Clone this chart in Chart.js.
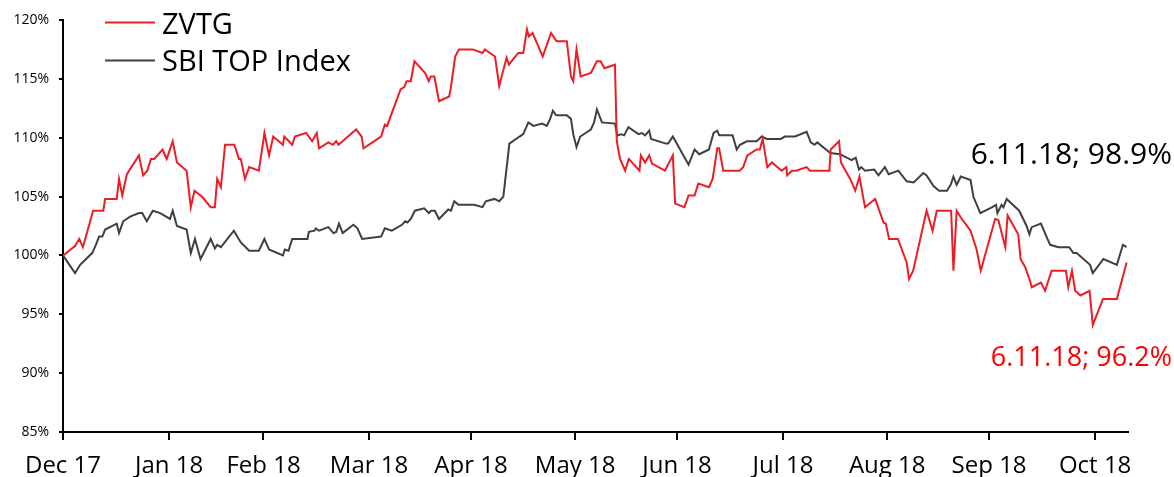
<!DOCTYPE html>
<html>
<head>
<meta charset="utf-8">
<script src="https://cdn.jsdelivr.net/npm/chart.js@4.4.0/dist/chart.umd.min.js"></script>
<style>
  html, body { margin: 0; padding: 0; background: #fff; }
</style>
</head>
<body>
<canvas id="grafico" width="1174" height="477"></canvas>
<script>
//DATOS//
// eje x: dia de bolsa desde el inicio (0 = inicio Dec 17)
const tickDays = [0, 22.9, 43.3, 66.1, 88.1, 110.6, 132.6, 155.5, 178, 200, 222.9];
const tickLabels = ["Dec 17", "Jan 18", "Feb 18", "Mar 18", "Apr 18", "May 18", "Jun 18", "Jul 18", "Aug 18", "Sep 18", "Oct 18"];

const zvtgDay = [
  0, 2.6, 3.5, 4.3, 6.5, 8.7, 9.1, 11.6, 12.1, 12.8,
  13.8, 16.4, 17.3, 18.2, 19.0, 19.7, 21.5, 22.4, 23.7, 24.6,
  26.7, 27.6, 28.4, 30.0, 31.9, 32.8, 33.3, 34.1, 35.0, 37.0,
  38.0, 38.4, 39.3, 40.2, 42.3, 43.5, 44.5, 45.4, 47.5, 47.8,
  49.5, 50.1, 52.5, 53.8, 54.8, 55.3, 57.3, 58.3, 59.0, 59.5,
  63.3, 64.5, 64.9, 68.7, 69.5, 70.0, 71.3, 72.9, 73.7, 74.2,
  75.1, 75.9, 78.2, 79.0, 79.4, 80.2, 81.2, 83.4, 83.7, 84.7,
  85.5, 88.5, 90.6, 91.1, 93.3, 94.2, 95.8, 96.3, 98.3, 99.4,
  100.2, 100.6, 101.4, 103.6, 105.4, 106.6, 108.8, 109.7, 110.2, 110.9,
  111.8, 114.0, 115.3, 116.1, 116.9, 119.2, 119.6, 120.3, 121.4, 122.2,
  124.5, 124.8, 125.7, 126.6, 127.2, 130.0, 131.7, 132.2, 134.2, 135.1,
  136.4, 137.2, 139.5, 140.3, 141.3, 141.7, 142.6, 146.1, 146.9, 147.8,
  149.8, 150.5, 151.1, 152.1, 153.1, 155.2, 156.2, 156.4, 157.4, 158.3,
  160.6, 161.3, 165.5, 165.8, 167.6, 168.0, 170.0, 171.1, 172.0, 173.2,
  175.4, 177.2, 177.7, 178.4, 180.3, 182.2, 182.7, 183.6, 186.5, 187.8,
  188.7, 191.8, 192.3, 193.0, 194.1, 196.0, 197.3, 198.2, 201.3, 202.0,
  203.5, 204.0, 206.3, 206.8, 207.8, 208.7, 209.2, 211.2, 212.1, 213.5,
  216.6, 217.1, 217.9, 218.6, 219.7, 221.7, 222.4, 224.6, 227.6, 229.7
];
const zvtgValue = [
  100.0, 100.8, 101.4, 100.7, 103.8, 103.8, 104.8, 104.8, 106.5, 105.1,
  106.9, 108.5, 106.8, 107.2, 108.2, 108.2, 109.0, 108.2, 109.7, 107.9,
  107.2, 104.1, 105.5, 105.0, 104.1, 104.1, 106.5, 105.8, 109.4, 109.4,
  108.2, 108.2, 106.5, 107.5, 107.2, 110.4, 108.5, 110.1, 109.4, 110.1,
  109.4, 110.1, 110.4, 109.7, 110.4, 109.1, 109.6, 109.4, 109.7, 109.4,
  110.7, 110.1, 109.1, 110.1, 111.1, 111.0, 112.4, 114.1, 114.3, 114.8,
  114.8, 116.5, 115.5, 114.8, 115.2, 115.2, 113.1, 113.5, 114.1, 116.9,
  117.5, 117.5, 117.2, 117.5, 116.9, 114.4, 116.8, 116.2, 117.2, 117.2,
  119.2, 118.6, 118.9, 116.9, 118.9, 118.2, 118.2, 115.2, 114.8, 117.5,
  115.2, 115.5, 116.5, 116.5, 115.9, 116.2, 109.7, 108.2, 107.2, 108.2,
  107.2, 108.5, 107.9, 108.5, 107.8, 107.2, 108.5, 104.4, 104.1, 105.1,
  105.1, 106.1, 105.8, 106.5, 109.1, 109.1, 107.2, 107.2, 107.5, 108.5,
  109.0, 109.0, 109.9, 107.5, 107.9, 107.2, 107.5, 106.8, 107.2, 107.2,
  107.5, 107.2, 107.2, 109.0, 109.7, 107.9, 106.5, 105.5, 106.7, 104.1,
  104.8, 102.8, 102.7, 101.4, 101.4, 99.4, 98.0, 98.7, 103.8, 102.1,
  103.8, 103.8, 98.7, 103.8, 103.1, 102.1, 100.5, 98.7, 103.1, 103.0,
  100.7, 103.4, 101.8, 99.7, 99.0, 98.0, 97.3, 97.7, 97.0, 98.7,
  98.7, 97.3, 98.7, 97.0, 96.6, 97.0, 94.1, 96.3, 96.3, 99.4
];

const sbiDay = [
  0, 2.6, 3.7, 6.3, 7.1, 7.8, 8.5, 9.1, 11.6, 12.1,
  13.0, 14.5, 16.4, 17.1, 18.1, 19.4, 21.0, 23.1, 23.7, 24.6,
  26.7, 27.6, 28.5, 29.7, 31.9, 32.8, 33.3, 34.1, 36.9, 38.4,
  39.2, 40.2, 42.3, 43.5, 44.5, 47.5, 47.9, 48.7, 49.5, 52.8,
  53.1, 54.3, 54.6, 55.3, 57.3, 58.4, 59.0, 59.6, 60.4, 62.7,
  63.6, 64.6, 68.7, 69.5, 71.0, 73.2, 73.9, 74.4, 75.1, 76.0,
  78.0, 79.0, 79.5, 80.3, 81.2, 83.2, 83.8, 84.5, 85.4, 88.8,
  90.6, 91.3, 93.2, 94.2, 95.1, 96.4, 98.6, 99.4, 100.5, 101.6,
  103.5, 104.5, 105.2, 105.8, 106.5, 108.8, 109.7, 110.2, 110.9, 111.7,
  114.0, 114.7, 115.3, 116.4, 119.2, 119.7, 120.5, 121.2, 122.1, 124.3,
  125.0, 125.7, 126.6, 127.0, 130.2, 130.7, 131.7, 135.1, 136.4, 137.4,
  139.5, 140.5, 141.3, 141.7, 144.6, 145.5, 146.2, 147.7, 149.8, 150.9,
  152.0, 155.0, 155.9, 158.1, 160.6, 161.5, 162.3, 162.9, 165.7, 167.8,
  170.3, 171.2, 171.9, 172.4, 173.2, 175.2, 176.1, 177.5, 178.3, 180.4,
  182.2, 183.7, 185.8, 186.5, 188.0, 189.2, 190.9, 191.7, 192.3, 193.0,
  193.9, 196.0, 196.6, 198.1, 200.7, 201.5, 201.8, 202.7, 203.1, 203.8,
  206.5, 208.1, 208.7, 209.2, 211.2, 212.6, 213.2, 215.0, 217.3, 218.2,
  218.9, 221.8, 222.4, 224.7, 227.6, 228.9, 229.7
];
const sbiValue = [
  100.0, 98.5, 99.2, 100.2, 100.9, 101.6, 101.6, 102.2, 102.7, 101.9,
  102.9, 103.3, 103.6, 103.6, 102.9, 103.8, 103.6, 103.1, 103.8, 102.5,
  102.2, 100.2, 101.4, 99.7, 101.4, 100.6, 100.9, 100.7, 102.1, 101.1,
  100.8, 100.4, 100.4, 101.4, 100.5, 100.0, 100.5, 100.4, 101.4, 101.4,
  102.0, 102.1, 102.3, 102.1, 102.4, 101.9, 102.0, 102.7, 101.9, 102.6,
  102.3, 101.4, 101.6, 102.3, 102.1, 102.6, 102.9, 102.8, 103.1, 103.8,
  104.0, 103.6, 103.8, 103.8, 103.1, 103.9, 103.8, 104.6, 104.3, 104.3,
  104.1, 104.6, 104.8, 104.6, 105.0, 109.5, 110.1, 110.3, 111.3, 111.0,
  111.2, 111.0, 111.6, 112.3, 111.9, 111.9, 111.6, 110.3, 109.2, 110.1,
  110.7, 111.3, 112.4, 111.3, 111.2, 110.2, 110.3, 110.2, 110.9, 110.3,
  110.4, 110.2, 110.6, 109.9, 109.5, 109.5, 110.1, 107.7, 109.0, 108.6,
  109.0, 110.4, 110.6, 110.2, 110.2, 109.0, 109.4, 109.7, 109.7, 110.1,
  109.9, 109.9, 110.1, 110.1, 110.5, 109.6, 109.4, 109.6, 108.7, 108.6,
  108.1, 108.3, 107.3, 107.5, 107.2, 107.3, 106.8, 107.5, 106.9, 107.2,
  106.3, 106.2, 107.0, 106.8, 105.9, 105.5, 105.5, 106.0, 106.7, 106.0,
  106.7, 106.4, 105.0, 103.6, 104.1, 104.3, 103.6, 104.3, 104.1, 104.8,
  103.8, 102.5, 101.8, 102.4, 102.7, 101.4, 100.9, 100.7, 100.7, 100.2,
  100.2, 99.2, 98.5, 99.7, 99.2, 100.9, 100.7
];

const zvtgEnd = "6.11.18; 96.2%";
const sbiEnd = "6.11.18; 98.9%";

const ROJO = "#ee1c25";
const GRIS = "#404040";
const FUENTE = '"Open Sans", "Noto Sans", sans-serif';

function armarPuntos(dias, valores) {
  return dias.map((d, i) => ({ x: d, y: valores[i] }));
}

//LEYENDA Y ETIQUETAS FINALES//
const leyenda = {
  id: "leyenda",
  afterDraw(chart) {
    const ctx = chart.ctx;
    const a = chart.chartArea;
    ctx.save();
    chart.data.datasets.forEach((ds, i) => {
      const y = a.top + 2.5 + i * 38;
      ctx.strokeStyle = ds.borderColor;
      ctx.lineWidth = 2;
      ctx.beginPath();
      ctx.moveTo(a.left + 42, y);
      ctx.lineTo(a.left + 92, y);
      ctx.stroke();
      ctx.fillStyle = "#000";
      ctx.font = "29px " + FUENTE;
      ctx.textBaseline = "alphabetic";
      ctx.textAlign = "left";
      ctx.fillText(ds.label, a.left + 99, y + 11.5 - i * 1.5);
    });

    ctx.textAlign = "right";
    ctx.fillStyle = "#000";
    ctx.font = "30px " + FUENTE;
    ctx.fillText(sbiEnd, chart.width - 2, 164);
    ctx.fillStyle = "#ff0000";
    ctx.font = "27px " + FUENTE;
    ctx.fillText(zvtgEnd, chart.width - 2, 366);
    ctx.restore();
  }
};

//GRAFICO//
const grafico = document.getElementById("grafico");

const chart = new Chart(grafico, {
  type: "line",
  data: {
    datasets: [
      {
        label: "ZVTG",
        data: armarPuntos(zvtgDay, zvtgValue),
        borderColor: ROJO,
        borderWidth: 2,
        pointRadius: 0,
        tension: 0
      },
      {
        label: "SBI TOP Index",
        data: armarPuntos(sbiDay, sbiValue),
        borderColor: GRIS,
        borderWidth: 2,
        pointRadius: 0,
        tension: 0
      }
    ]
  },
  options: {
    responsive: false,
    animation: false,
    layout: { padding: { top: 20, right: 46, left: 0, bottom: 0 } },
    plugins: {
      legend: { display: false },
      tooltip: { enabled: false }
    },
    scales: {
      x: {
        type: "linear",
        min: 0,
        max: 230,
        afterBuildTicks: (scale) => {
          scale.ticks = tickDays.map((v) => ({ value: v }));
        },
        afterFit: (scale) => { scale.height = 45; },
        ticks: {
          autoSkip: false,
          maxRotation: 0,
          color: "#000",
          padding: 12,
          font: { family: FUENTE, size: 24 },
          callback: (v, i) => tickLabels[i]
        },
        grid: { drawOnChartArea: false, tickLength: 8, color: "#000", lineWidth: 2 },
        border: { color: "#000", width: 2 }
      },
      y: {
        min: 85,
        max: 120,
        afterFit: (scale) => { scale.width = 63; },
        ticks: {
          stepSize: 5,
          color: "#000",
          padding: 10,
          font: { family: FUENTE, size: 14 },
          callback: (v) => v + "%"
        },
        grid: { drawOnChartArea: false, tickLength: 4, color: "#000", lineWidth: 2 },
        border: { color: "#000", width: 2 }
      }
    }
  },
  plugins: [leyenda]
});
</script>
</body>
</html>
